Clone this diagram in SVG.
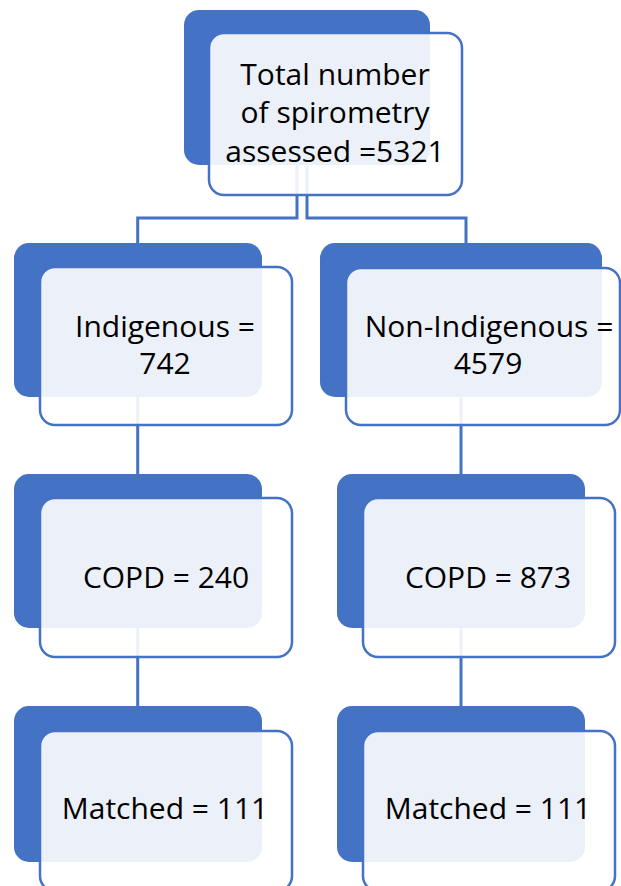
<svg xmlns="http://www.w3.org/2000/svg" width="621" height="886" viewBox="0 0 621 886">
<style>
.back{fill:#4472C4}
.front{fill:#ffffff;fill-opacity:0.9;stroke:#4472C4;stroke-width:2.5}
.conn{fill:none;stroke:#4472C4;stroke-width:3}
.lbl{font-family:"Open Sans","Liberation Sans",sans-serif;font-size:30px;fill:#000;text-anchor:middle}
</style>
<rect width="621" height="886" fill="#ffffff"/>
<g id="connectors">
<path class="conn" d="M297,165 V218 H137.7 V243"/>
<path class="conn" d="M307,165 V218 H466 V243"/>
<path class="conn" d="M137.7,397 V474"/>
<path class="conn" d="M461,397 V474"/>
<path class="conn" d="M137.7,628 V706"/>
<path class="conn" d="M461,628 V706"/>
</g>
<g id="total">
<rect class="back" x="184" y="10" width="246" height="155" rx="15"/>
<rect class="front" x="209" y="33" width="253" height="162" rx="15"/>
<text class="lbl" x="335" y="85">Total number</text>
<text class="lbl" x="335" y="123">of spirometry</text>
<text class="lbl" x="335" y="162">assessed =5321</text>
</g>
<g id="indigenous">
<rect class="back" x="14" y="243" width="248" height="154" rx="15"/>
<rect class="front" x="40" y="267" width="252" height="158" rx="15"/>
<text class="lbl" x="165" y="337">Indigenous =</text>
<text class="lbl" x="165" y="374">742</text>
</g>
<g id="nonindigenous">
<rect class="back" x="320" y="243" width="282" height="154" rx="15"/>
<rect class="front" x="346" y="268" width="274" height="157" rx="15"/>
<text class="lbl" x="489" y="337">Non-Indigenous =</text>
<text class="lbl" x="488" y="374">4579</text>
</g>
<g id="copd-ind">
<rect class="back" x="14" y="474" width="248" height="154" rx="15"/>
<rect class="front" x="40" y="498" width="252" height="159" rx="15"/>
<text class="lbl" x="166" y="588">COPD = 240</text>
</g>
<g id="copd-non">
<rect class="back" x="337" y="474" width="248" height="154" rx="15"/>
<rect class="front" x="363" y="498" width="252" height="159" rx="15"/>
<text class="lbl" x="488" y="588">COPD = 873</text>
</g>
<g id="matched-ind">
<rect class="back" x="14" y="706" width="248" height="156" rx="15"/>
<rect class="front" x="40" y="731" width="252" height="160" rx="15"/>
<text class="lbl" x="165" y="819">Matched = 111</text>
</g>
<g id="matched-non">
<rect class="back" x="337" y="706" width="248" height="156" rx="15"/>
<rect class="front" x="363" y="731" width="252" height="160" rx="15"/>
<text class="lbl" x="488" y="819">Matched = 111</text>
</g>
</svg>
